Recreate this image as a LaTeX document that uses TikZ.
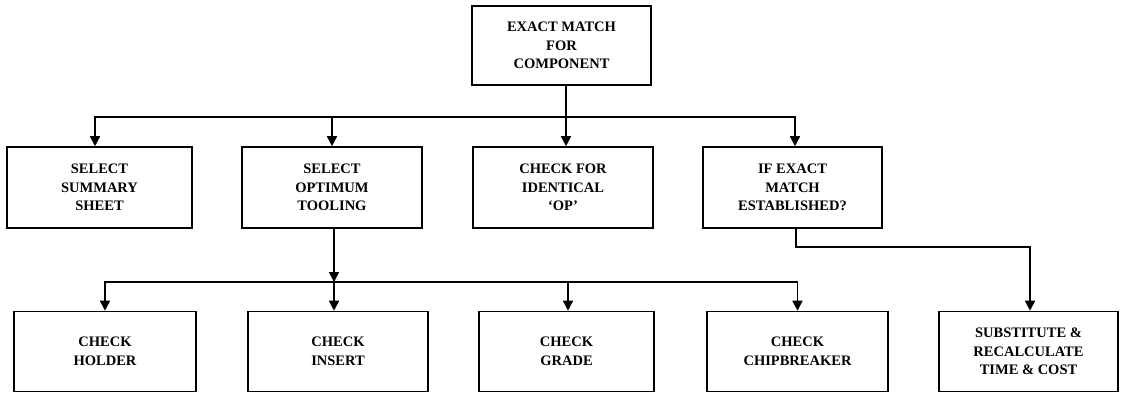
\documentclass[tikz,border=0pt]{standalone}
\usepackage{fontspec}
\setmainfont{Liberation Serif}
\usetikzlibrary{arrows.meta}
\begin{document}
\begin{tikzpicture}[x=1pt,y=-1pt,
  box/.style={draw,line width=1.6pt,rectangle,inner sep=0pt,align=center,
    font=\fontsize{14.5}{18.5}\selectfont\bfseries},
  link/.style={line width=1.6pt},
  arr/.style={line width=1.6pt,-{Triangle[length=10pt,width=10pt]}}]
\useasboundingbox (0,0) rectangle (1121,394);
% top
\node[box,minimum width=179,minimum height=79] (top) at (561.5,45.5) {EXACT MATCH\\FOR\\COMPONENT};
% row 2
\node[box,minimum width=185,minimum height=81] (b1) at (99.5,187.5) {SELECT\\SUMMARY\\SHEET};
\node[box,minimum width=180,minimum height=81] (b2) at (332,187.5) {SELECT\\OPTIMUM\\TOOLING};
\node[box,minimum width=180,minimum height=81] (b3) at (563,187.5) {CHECK FOR\\IDENTICAL\\`OP'};
\node[box,minimum width=179,minimum height=81] (b4) at (792.5,187.5) {IF EXACT\\MATCH\\ESTABLISHED?};
% row 3
\node[box,minimum width=182,minimum height=80] (h) at (105,351.5) {CHECK\\HOLDER};
\node[box,minimum width=180,minimum height=80] (i) at (338,351.5) {CHECK\\INSERT};
\node[box,minimum width=175,minimum height=80] (g) at (566.5,351.5) {CHECK\\GRADE};
\node[box,minimum width=181,minimum height=80] (cb) at (797.5,351.5) {CHECK\\CHIPBREAKER};
\node[box,minimum width=179,minimum height=80] (s) at (1028.5,351.5) {SUBSTITUTE \&\\RECALCULATE\\TIME \& COST};
% connectors from top
\coordinate (j1) at (566,117);
\draw[link] (top.south -| j1) -- (j1);
\draw[arr] (j1) -- (j1 |- b3.north);
\draw[arr] (j1) -| ([xshift=-4.5]b1.north);
\draw[arr] (j1) -| (b2.north);
\draw[arr] (j1) -| ([xshift=2.5]b4.north);
% connectors from SELECT OPTIMUM TOOLING
\coordinate (j2) at (334,282);
\draw[arr] (b2.south -| j2) -- (j2);
\draw[link] (j2 -| h.north) -- (j2 -| cb.north);
\draw[arr] (j2) -| (h.north);
\draw[arr] (j2) -- (j2 |- i.north);
\draw[arr] (j2) -| ([xshift=1.5]g.north);
\draw[arr] (j2) -| (cb.north);
% connector from IF EXACT MATCH
\coordinate (j3) at (796,247);
\draw[arr] (b4.south -| j3) -- (j3) -| ([xshift=1.5]s.north);
\end{tikzpicture}
\end{document}
